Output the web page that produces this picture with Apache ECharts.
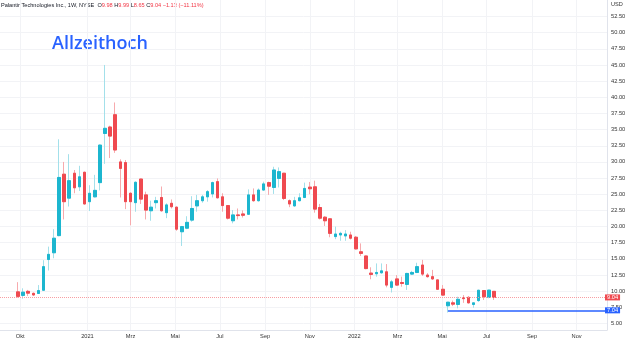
<!DOCTYPE html>
<html><head><meta charset="utf-8">
<script src="https://cdn.jsdelivr.net/npm/echarts@6/dist/echarts.min.js"></script>
<style>html,body{margin:0;padding:0;background:#fff}#c{width:630px;height:344px}</style>
</head><body><div id="c"></div>
<script>
const weeks = [
'2020-09-28','2020-10-05','2020-10-12','2020-10-19','2020-10-26','2020-11-02','2020-11-09','2020-11-16','2020-11-23','2020-11-30','2020-12-07','2020-12-14','2020-12-21','2020-12-28',
'2021-01-04','2021-01-11','2021-01-18','2021-01-25','2021-02-01','2021-02-08','2021-02-15','2021-02-22','2021-03-01','2021-03-08','2021-03-15','2021-03-22','2021-03-29','2021-04-05','2021-04-12','2021-04-19','2021-04-26','2021-05-03','2021-05-10','2021-05-17','2021-05-24','2021-05-31','2021-06-07','2021-06-14','2021-06-21','2021-06-28','2021-07-05','2021-07-12','2021-07-19','2021-07-26','2021-08-02','2021-08-09','2021-08-16','2021-08-23','2021-08-30','2021-09-06','2021-09-13','2021-09-20','2021-09-27','2021-10-04','2021-10-11','2021-10-18','2021-10-25','2021-11-01','2021-11-08','2021-11-15','2021-11-22','2021-11-29','2021-12-06','2021-12-13','2021-12-20','2021-12-27',
'2022-01-03','2022-01-10','2022-01-17','2022-01-24','2022-01-31','2022-02-07','2022-02-14','2022-02-21','2022-02-28','2022-03-07','2022-03-14','2022-03-21','2022-03-28','2022-04-04','2022-04-11','2022-04-18','2022-04-25','2022-05-02','2022-05-09','2022-05-16','2022-05-23','2022-05-30','2022-06-06','2022-06-13','2022-06-20','2022-06-27','2022-07-04','2022-07-11'];
const opens = [9.9,9.35,9.98,9.67,9.65,10.15,14.9,15.95,18.6,28.1,24.4,28.25,26.15,28.4,23.85,24.6,26.8,34.4,35.4,37.3,30.0,29.9,25.15,23.7,27.35,24.9,22.45,23.7,24.5,22.15,23.6,23.0,19.2,19.75,21.0,23.2,24.0,24.6,25.05,26.95,24.6,23.25,20.9,21.8,21.95,21.9,24.9,24.0,25.65,26.8,26.05,27.45,28.25,24.0,23.2,24.0,24.5,26.1,26.15,22.95,21.45,21.2,18.45,18.7,18.55,18.7,18.35,16.1,15.45,12.8,12.7,12.85,13.0,10.6,11.9,11.35,11.05,12.65,12.9,14.05,12.5,12.25,11.75,10.3,7.75,8.2,7.95,9.0,9.05,7.95,8.55,10.1,9.05,9.98];
const closes = [9.2,9.85,9.7,9.42,10.1,13.8,15.7,18.2,27.6,23.85,27.1,26.0,27.7,23.5,25.15,25.6,32.6,35.2,34.0,31.85,29.0,23.85,23.85,26.85,24.25,22.55,23.0,24.0,22.45,23.35,23.07,19.6,20.0,20.65,22.8,24.0,24.6,25.4,26.8,24.45,23.25,21.3,21.8,21.7,21.75,24.9,24.0,25.65,26.6,26.25,28.75,28.5,24.35,23.5,24.0,24.45,25.9,25.85,22.7,21.3,20.9,18.95,18.85,18.95,18.85,18.2,16.55,15.85,13.5,12.6,12.9,13.15,10.95,11.45,10.95,11.2,12.75,12.9,13.8,12.65,12.25,11.9,10.3,9.4,8.3,8.0,8.75,8.85,8.2,8.2,10.15,9.15,10.17,9.04];
const lows = [9.0,8.85,9.25,9.25,9.6,10.1,13.2,15.1,18.5,21.1,23.1,25.15,25.5,23.4,22.4,24.5,25.6,29.7,30.6,31.4,24.5,22.7,20.2,22.3,23.5,21.1,20.9,22.8,22.3,21.3,22.8,19.35,17.0,19.6,20.75,22.3,23.7,23.85,24.5,24.35,22.3,21.1,20.5,21.1,21.4,21.8,23.85,23.85,25.6,24.9,25.05,26.05,24.1,23.0,23.05,23.9,24.4,25.0,22.15,21.1,20.1,18.35,18.05,17.8,17.8,18.0,16.45,15.45,13.4,11.85,12.25,12.7,10.6,9.8,10.8,10.7,10.2,12.5,12.8,12.35,12.1,11.75,10.2,9.3,6.7,7.7,7.35,8.2,8.1,7.45,8.35,8.65,8.9,8.65];
const highs = [11.4,10.45,10.2,9.8,10.95,14.8,16.9,19.6,33.5,30.0,31.2,28.75,29.4,28.5,26.4,28.0,32.7,45.0,35.6,39.2,30.4,30.3,25.3,27.0,27.4,25.4,24.0,24.6,26.2,23.6,24.2,23.1,20.1,21.6,24.7,24.9,24.9,25.65,26.95,27.45,25.15,23.3,22.55,22.8,22.5,25.75,25.9,25.9,26.95,26.95,29.25,29.15,28.3,24.2,24.6,25.15,26.8,26.9,27.1,23.5,21.6,21.3,20.0,19.2,19.45,19.2,18.55,17.4,15.5,13.7,14.3,14.3,14.2,11.75,12.5,12.25,12.85,13.15,14.4,14.85,12.8,13.3,11.8,10.95,8.35,8.55,9.15,9.4,9.25,8.25,10.2,10.15,10.2,9.99];
const yTicks = [5,7.5,10,12.5,15,17.5,20,22.5,25,27.5,30,32.5,35,37.5,40,42.5,45,47.5,50,52.5];
const xTickDates = ['2020-10-01','2021-01-01','2021-03-01','2021-05-01','2021-07-01','2021-09-01','2021-11-01','2022-01-01','2022-03-01','2022-05-01','2022-07-01','2022-09-01','2022-11-01'];
const monthNames = ['Jan','Feb','Mrz','Apr','Mai','Jun','Jul','Aug','Sep','Okt','Nov','Dez'];
const markedLow = 7.04;
const markedLowWeek = '2022-05-09';
const titleText = 'Palantir Technologies Inc., 1W, NYSE';
const annotationText = 'Allzeithoch';

const DAY = 86400000;
function ts(s){const p=s.split('-').map(Number);return Date.UTC(p[0],p[1]-1,p[2]);}
const UP='#1cb6cf', DOWN='#ef4a50', UPW='#a3e0ea', DOWNW='#f7aaad';
const FONT='Liberation Sans';
const n = weeks.length;
const lastO=opens[n-1], lastH=highs[n-1], lastL=lows[n-1], lastC=closes[n-1], prevC=closes[n-2];
const chg = lastC - prevC, pct = chg/prevC*100;
const fmtSigned = v => (v<0?'\u2212':'+')+Math.abs(v).toFixed(2);
const xMin = ts('2020-09-03')+0.4*DAY, xMax = ts('2022-12-12')+0.5*DAY;
const xTicks = xTickDates.map(ts);

const wickData = weeks.map((w,i)=>[ts(w),opens[i],closes[i],lows[i],highs[i]]);
const bodyData = weeks.map((w,i)=>[ts(w),opens[i],closes[i],Math.min(opens[i],closes[i]),Math.max(opens[i],closes[i])]);

const chart = echarts.init(document.getElementById('c'), null, {renderer:'canvas'});
chart.setOption({
  animation:false,
  backgroundColor:'#ffffff',
  grid:{left:0,right:23,top:0,bottom:14},
  xAxis:{type:'value',min:xMin,max:xMax,scale:true,
    axisLine:{show:true,lineStyle:{color:'#e0e3eb',width:1}},
    axisTick:{show:false,customValues:xTicks},
    axisLabel:{customValues:xTicks,fontSize:5.7,color:'#333',margin:3,fontFamily:FONT,
      formatter:v=>{const d=new Date(v);return d.getUTCMonth()===0?String(d.getUTCFullYear()):monthNames[d.getUTCMonth()];}},
    splitLine:{show:true,lineStyle:{color:'#f2f3f6',width:1}}},
  yAxis:{type:'value',position:'right',min:4,max:55.05,scale:true,
    axisLine:{show:true,lineStyle:{color:'#e0e3eb',width:1}},
    axisTick:{show:false,customValues:yTicks},
    axisLabel:{customValues:yTicks,fontSize:5.7,color:'#333',margin:4,fontFamily:FONT,formatter:v=>v.toFixed(2)},
    splitLine:{show:true,lineStyle:{color:'#f2f3f6',width:1}}},
  series:[
    {type:'candlestick',data:wickData,barWidth:3,silent:true,z:2,
     itemStyle:{color:UPW,color0:DOWNW,borderColor:UPW,borderColor0:DOWNW,borderWidth:1}},
    {type:'candlestick',data:bodyData,barWidth:3,silent:true,z:3,
     itemStyle:{color:UP,color0:DOWN,borderColor:UP,borderColor0:DOWN,borderWidth:1},
     markLine:{symbol:'none',silent:true,animation:false,
       data:[
         {yAxis:lastC,lineStyle:{color:'#f79ea2',type:'dotted',width:1},
          label:{show:true,position:'end',distance:-2,formatter:lastC.toFixed(2),backgroundColor:DOWN,color:'#fff',
            fontSize:5.7,fontFamily:FONT,lineHeight:6,padding:[0,2,0,2]}},
         [{coord:[ts(markedLowWeek),markedLow],lineStyle:{color:'#2962ff',type:'solid',width:1.6},
           label:{show:true,position:'end',distance:-2,formatter:markedLow.toFixed(2),backgroundColor:'#2962ff',color:'#fff',
            fontSize:5.7,fontFamily:FONT,lineHeight:6,padding:[0,2,0,2]}},
          {coord:[xMax,markedLow]}]
       ]}}
  ],
  graphic:[
    {type:'text',left:1,top:2,style:{
      text:'{t|'+titleText+'}  {k|O}{v|'+lastO.toFixed(2)+'} {k|H}{v|'+lastH.toFixed(2)+'} {k|L}{v|'+lastL.toFixed(2)+'} {k|C}{v|'+lastC.toFixed(2)+'} {v|'+fmtSigned(chg)+' ('+fmtSigned(pct)+'%)}',
      rich:{t:{fontSize:5.6,fill:'#131722',fontFamily:FONT},k:{fontSize:5.6,fill:'#131722',fontFamily:FONT},v:{fontSize:5.6,fill:'#f23645',fontFamily:FONT}},
      fontSize:5.6,fontFamily:FONT}},
    {type:'text',left:611,top:1,style:{text:'USD',fontSize:5.6,fill:'#333',fontFamily:FONT}},
    {type:'text',left:52,top:35,style:{text:annotationText,fontSize:18,fontWeight:600,fill:'#2962ff',fontFamily:'Open Sans'}}
  ]
});
</script></body></html>
